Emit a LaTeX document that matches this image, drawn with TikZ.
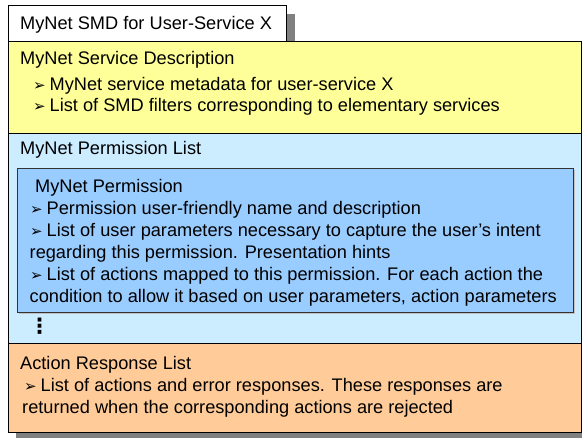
\documentclass[tikz,border=0pt]{standalone}
\usepackage{fontspec}
\setmainfont{Liberation Sans}
\newfontfamily\arrowfont{DejaVu Sans}
\usepackage{tikz}

\definecolor{descyellow}{HTML}{FFFF99}
\definecolor{permlistblue}{HTML}{CCECFF}
\definecolor{permblue}{HTML}{99CCFF}
\definecolor{resporange}{HTML}{FFCC99}
\definecolor{shadowgray}{HTML}{808080}

\newcommand{\pointer}{\makebox[16.5pt][l]{\arrowfont\fontsize{15}{15}\selectfont ➢}}

\begin{document}
\begin{tikzpicture}[x=1pt,y=-1pt,
  txt/.style={anchor=base west,inner sep=0pt,font=\fontsize{18.2}{22}\selectfont},
  frame/.style={draw=black,line width=0.9pt}]

  \useasboundingbox (0,0) rectangle (582,438);

  % shadows
  \fill[shadowgray] (17,14) rectangle (295,50);
  \fill[shadowgray] (16,49) rectangle (590,446);

  % tab
  \draw[frame,fill=white] (8,5) rectangle (286,41);
  \node[txt] (tab) at (20,30) {MyNet SMD for User-Service X};

  % bands
  \fill[descyellow] (8,41) rectangle (581,133);
  \fill[permlistblue] (8,133) rectangle (581,343);
  \fill[resporange] (8,343) rectangle (581,432);
  \draw[frame] (8,133) -- (581,133);
  \draw[frame] (8,343) -- (581,343);
  \draw[frame] (8,41) rectangle (581,432);

  % service description
  \node[txt] (desc) at (20,65) {MyNet Service Description};
  \node[txt] (desc1) at (33,91) {\pointer MyNet service metadata for user-service X};
  \node[txt] (desc2) at (33,112) {\pointer List of SMD filters corresponding to elementary services};

  % permission list
  \node[txt] (permlist) at (20,155) {MyNet Permission List};
  \fill[shadowgray!50] (19,170) rectangle (575,314);
  \draw[draw=black!80,fill=permblue,line width=0.8pt] (17,168) rectangle (573,312);
  \node[txt] (perm) at (35,193) {MyNet Permission};
  \node[txt] (perm1) at (30,215) {\pointer Permission user-friendly name and description};
  \node[txt] (perm2) at (30,237) {\pointer List of user parameters necessary to capture the user’s intent};
  \node[txt] (perm3) at (29.5,259) {regarding this permission. Presentation hints};
  \node[txt] (perm4) at (30,281) {\pointer List of actions mapped to this permission. For each action the};
  \node[txt] (perm5) at (29.5,303) {condition to allow it based on user parameters, action parameters};
  \node[txt,font=\arrowfont\bfseries\fontsize{21}{21}\selectfont] (dots) at (29,334) {⋮};

  % action responses
  \node[txt] (resp) at (20,370) {Action Response List};
  \node[txt] (resp1) at (24,392) {\pointer List of actions and error responses. These responses are};
  \node[txt] (resp2) at (22,414) {returned when the corresponding actions are rejected};

\end{tikzpicture}
\end{document}
